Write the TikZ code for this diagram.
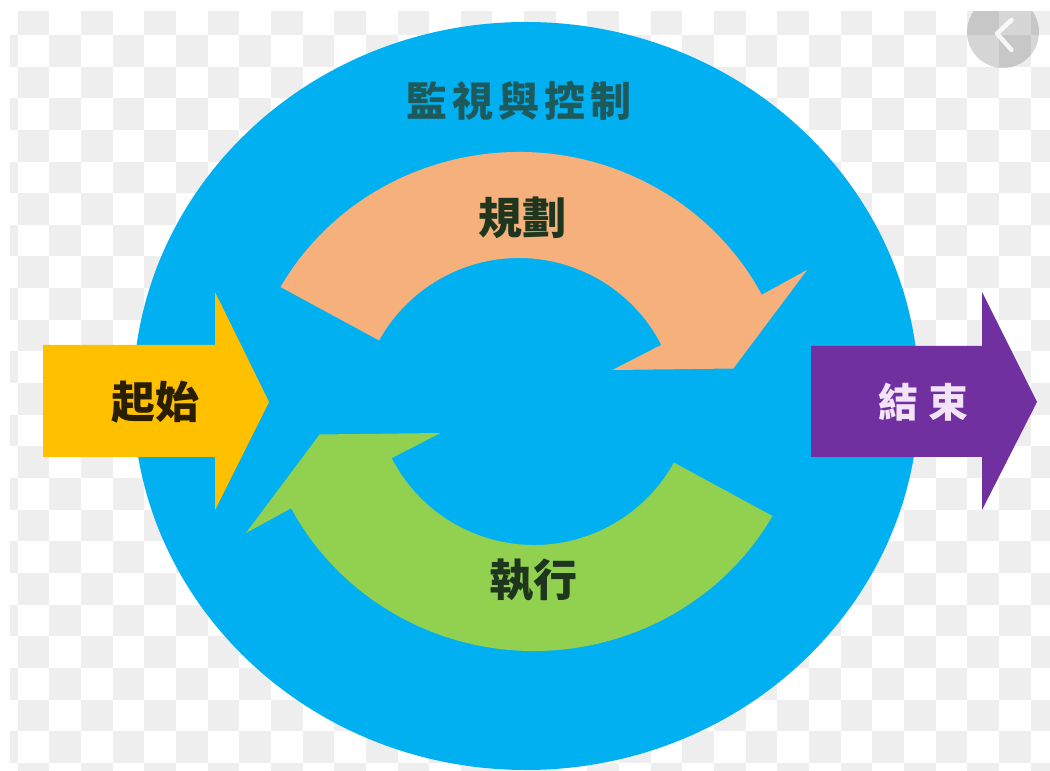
\documentclass[tikz,border=0pt]{standalone}
\usepackage{fontspec}
\newfontfamily\cjk{Noto Sans CJK TC}
\definecolor{chkgrey}{HTML}{EEEEEE}
\definecolor{bigblue}{HTML}{00B0F0}
\definecolor{planorange}{HTML}{F5B07C}
\definecolor{execgreen}{HTML}{92D050}
\definecolor{startyellow}{HTML}{FFC000}
\definecolor{endpurple}{HTML}{7030A0}
\definecolor{titleteal}{HTML}{1C5A5C}
\definecolor{darktext}{HTML}{1E361E}
\definecolor{starttext}{HTML}{2A1E00}
\definecolor{endtext}{HTML}{F2E4F6}
\newcommand\cyclearrowpath[1]{%
  \fill[#1] (150.5:274 and 266) arc[start angle=150.5,end angle=27.6,x radius=274,y radius=266]
    -- (27.2:324) -- (13:220) -- (27.2:105) -- (27.2:160)
    arc[start angle=27.2,end angle=151,radius=160] -- cycle;}
\tikzset{
  lbl/.style={inner sep=0pt, font=\cjk\bfseries\fontsize{44}{44}\selectfont},
}
\begin{document}
\begin{tikzpicture}[x=1pt,y=1pt]
\useasboundingbox (0,0) rectangle (1050,771);
\fill[white] (0,0) rectangle (1050,771);
% checkerboard background
\begin{scope}
\clip (10,0) rectangle (1050,759);
\foreach \j in {0,...,24}{
  \foreach \i in {-1,...,33}{
    \pgfmathtruncatemacro{\chkpar}{mod(\i+\j+2,2)}
    \ifnum\chkpar=0
      \fill[chkgrey] ({17.7+31.65*\i},{771-3.3-31.65*\j}) rectangle ++(31.65,-31.65);
    \fi
  }}
\end{scope}
% big circle
\fill[bigblue] (526,375) ellipse [x radius=393pt, y radius=374pt];
% planning arrow (orange)
\begin{scope}[shift={(519,353)}]
  \cyclearrowpath{planorange}
\end{scope}
% execution arrow (green) = orange rotated 180 degrees
\begin{scope}[rotate around={180:(526.5,369.5)}]
\begin{scope}[shift={(519,353)}]
  \cyclearrowpath{execgreen}
\end{scope}
\end{scope}
% start arrow
\fill[startyellow] (43,314) -- (43,426) -- (215,426) -- (215,479) -- (269,369)
  -- (215,261) -- (215,314) -- cycle;
% end arrow
\fill[endpurple] (811,314) -- (811,425) -- (982,425) -- (982,479) -- (1037,369)
  -- (982,261) -- (982,314) -- cycle;
% labels
\node[lbl, text=titleteal, font=\cjk\bfseries\fontsize{41}{41}\selectfont] (title) at (519,670)
  {監\kern5pt 視\kern5pt 與\kern5pt 控\kern5pt 制};
\node[lbl, text=darktext] (plan) at (522,553) {規劃};
\node[lbl, text=darktext] (exec) at (533,191) {執行};
\node[lbl, text=starttext] (start) at (155,369) {起始};
\node[lbl, text=endtext, font=\cjk\bfseries\fontsize{40}{40}\selectfont] (end) at (923,369) {結\kern10pt 束};
% back button
\begin{scope}
\clip (900,0) rectangle (1050,759);
\fill[black, opacity=0.16] (1003,739) circle[radius=36];
\end{scope}
\draw[white, opacity=0.85, line width=4.5pt, line cap=round, line join=round]
  (1011.5,751) -- (997,737.5) -- (1011.5,721);
\end{tikzpicture}
\end{document}
